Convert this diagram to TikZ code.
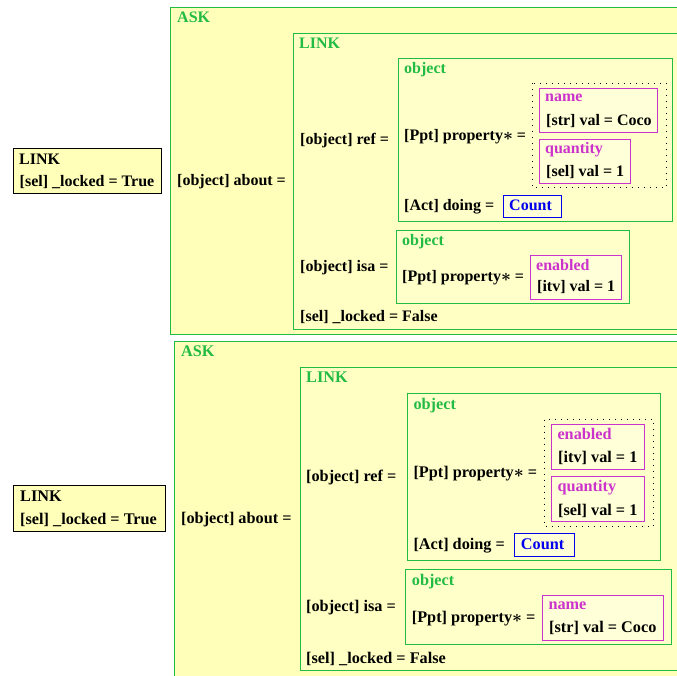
\documentclass[tikz,border=0pt]{standalone}
\usepackage{fontspec}
\setmainfont{Liberation Serif}
\definecolor{askfill}{HTML}{FFFFB9}
\definecolor{linkfill}{HTML}{FFFFC3}
\definecolor{objfill}{HTML}{FFFFCA}
\definecolor{ppfill}{HTML}{FFFFD8}
\definecolor{gr}{HTML}{22BB44}
\definecolor{mg}{HTML}{CC33CC}
\definecolor{bl}{HTML}{0000EE}
\newcommand{\fsz}{16}
\tikzset{
  txt/.style={anchor=base west, inner sep=0pt, font=\fontsize{\fsz}{19}\selectfont\bfseries},
  gtxt/.style={txt, text=gr},
  mtxt/.style={txt, text=mg},
  btxt/.style={txt, text=bl},
  askbox/.style={draw=gr, fill=askfill, line width=1pt},
  linkbox/.style={draw=gr, fill=linkfill, line width=1pt},
  objbox/.style={draw=gr, fill=objfill, line width=1pt},
  ppbox/.style={draw=mg, fill=ppfill, line width=1pt},
  actbox/.style={draw=bl, fill=ppfill, line width=1pt},
  blkbox/.style={draw=black, fill=askfill, line width=1pt},
  dotbox/.style={draw=black, line width=1pt, dash pattern=on 1pt off 5pt},
}
\newcommand{\pstar}{property{\boldmath$\ast$}}
\begin{document}
\begin{tikzpicture}[x=1pt,y=-1pt]
\useasboundingbox (0,0) rectangle (677,675);
\clip (0,0) rectangle (677,675);
\fill[white] (0,0) rectangle (677,675);
% ================= TOP =================
\draw[blkbox] (13.3,148.3) rectangle (161.7,193.3);
\node[txt] (tl1) at (19,164) {LINK};
\node[txt] (tl2) at (19.5,186.3) {[sel] \_locked = True};
\draw[askbox] (170.3,7.3) rectangle (690,334.3);
\node[gtxt] (task) at (177,22.6) {ASK};
\node[txt] (tabout) at (177,185) {[object] about =};
\draw[linkbox] (293.3,33.3) rectangle (690,329.3);
\node[gtxt] (tlink) at (299,48) {LINK};
\node[txt] (tref) at (300,144) {[object] ref =};
\draw[objbox] (398.3,58.7) rectangle (672.7,221);
\node[gtxt] (tobj1) at (404,73.6) {object};
\node[txt] (tprop1) at (404,140) {[Ppt] \pstar{} =};
\draw[dotbox] (532.3,83.3) rectangle (666,187.7);
\draw[ppbox] (539.3,88.3) rectangle (657.3,132.3);
\node[mtxt] (tname) at (545,101.3) {name};
\node[txt] (tnamev) at (546,125) {[str] val = Coco};
\draw[ppbox] (539.3,139.3) rectangle (630.7,183.3);
\node[mtxt] (tqty) at (545,153.3) {quantity};
\node[txt] (tqtyv) at (546,176) {[sel] val = 1};
\node[txt] (tdoing) at (404,210) {[Act] doing =};
\draw[actbox] (503.3,195.3) rectangle (561.3,217.3);
\node[btxt] (tcount) at (509,210) {Count};
\node[txt] (tisa) at (300,271) {[object] isa =};
\draw[objbox] (396.3,230) rectangle (629.3,303.3);
\node[gtxt] (tobj2) at (402,245) {object};
\node[txt] (tprop2) at (402,281.7) {[Ppt] \pstar{} =};
\draw[ppbox] (530.3,255.3) rectangle (621.7,299.3);
\node[mtxt] (tena) at (536,270.7) {enabled};
\node[txt] (tenav) at (537,291.7) {[itv] val = 1};
\node[txt] (tlock) at (300,321.7) {[sel] \_locked = False};
% ================= BOTTOM =================
\renewcommand{\fsz}{16.25}
\draw[blkbox] (13.3,485.3) rectangle (165.3,531.7);
\node[txt] (bl1) at (20,501) {LINK};
\node[txt] (bl2) at (20,524.3) {[sel] \_locked = True};
\draw[askbox] (174.3,341) rectangle (690,690);
\node[gtxt] (bask) at (181,356.7) {ASK};
\node[txt] (babout) at (181,523.3) {[object] about =};
\draw[linkbox] (300.3,367.3) rectangle (690,670);
\node[gtxt] (blink) at (306,382.7) {LINK};
\node[txt] (bref) at (306,481.7) {[object] ref =};
\draw[objbox] (407.3,393.7) rectangle (660.3,560.3);
\node[gtxt] (bobj1) at (413.3,409) {object};
\node[txt] (bprop1) at (413.3,477.7) {[Ppt] \pstar{} =};
\draw[dotbox] (544.3,419.7) rectangle (653.7,526);
\draw[ppbox] (551.3,424.3) rectangle (644.3,469.3);
\node[mtxt] (bena) at (557.3,439.3) {enabled};
\node[txt] (benav) at (558,462.7) {[itv] val = 1};
\draw[ppbox] (551.3,476.3) rectangle (644.3,521);
\node[mtxt] (bqty) at (557.3,491.7) {quantity};
\node[txt] (bqtyv) at (558,515) {[sel] val = 1};
\node[txt] (bdoing) at (413.3,549.3) {[Act] doing =};
\draw[actbox] (514.3,533.3) rectangle (574.3,556.3);
\node[btxt] (bcount) at (520.7,549) {Count};
\node[txt] (bisa) at (306,611) {[object] isa =};
\draw[objbox] (405.3,569.7) rectangle (671.7,644);
\node[gtxt] (bobj2) at (411.7,585) {object};
\node[txt] (bprop2) at (411.7,622.3) {[Ppt] \pstar{} =};
\draw[ppbox] (542.3,595.7) rectangle (663.3,640.3);
\node[mtxt] (bname) at (548.3,609) {name};
\node[txt] (bnamev) at (549,632.7) {[str] val = Coco};
\node[txt] (block) at (306,663.3) {[sel] \_locked = False};
\end{tikzpicture}
\end{document}
